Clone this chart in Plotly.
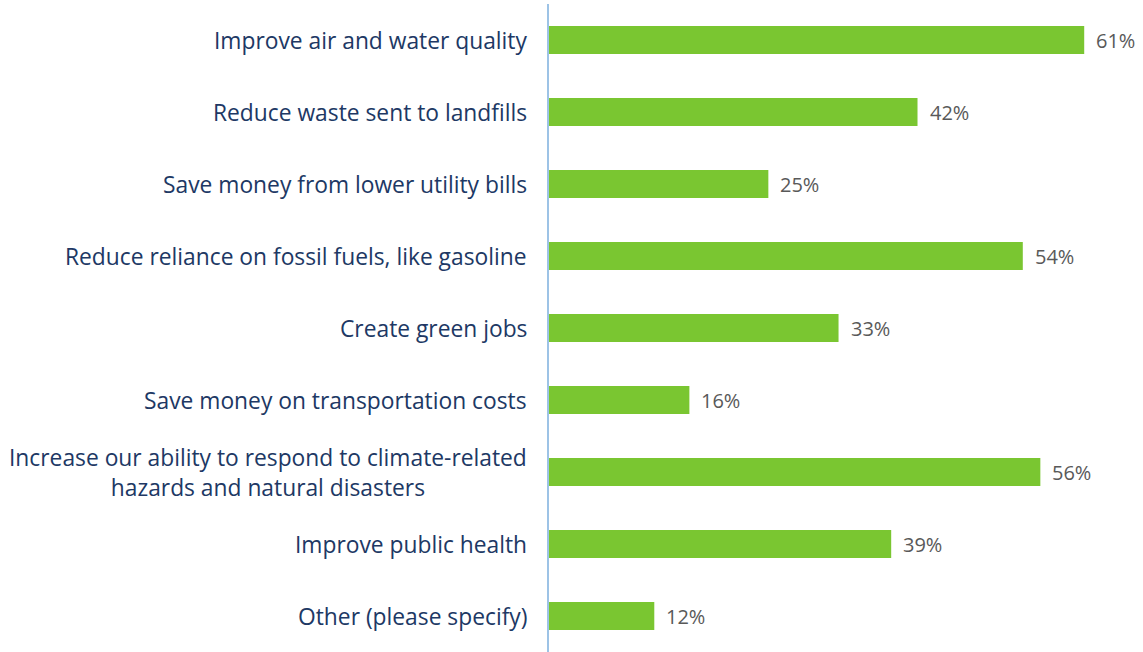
import plotly.graph_objects as go

# Survey responses: share of respondents selecting each benefit
categories = [
    "Improve air and water quality",
    "Reduce waste sent to landfills",
    "Save money from lower utility bills",
    "Reduce reliance on fossil fuels, like gasoline",
    "Create green jobs",
    "Save money on transportation costs",
    "Increase our ability to respond to climate-related<br>hazards and natural disasters",
    "Improve public health",
    "Other (please specify)",
]
values = [61, 42, 25, 54, 33, 16, 56, 39, 12]

BAR_COLOR = "#7AC631"
LABEL_COLOR = "#203864"
VALUE_COLOR = "#595959"
AXIS_COLOR = "#9DC3E6"
FONT = "Open Sans"

fig = go.Figure(
    go.Bar(
        x=values,
        y=categories,
        orientation="h",
        marker=dict(color=BAR_COLOR, line=dict(width=0)),
        width=0.39,
        hoverinfo="skip",
    )
)

annotations = []
# Category labels, lines centred within each label block
for cat in categories:
    annotations.append(dict(
        x=0, xref="paper", y=cat, yref="y",
        text=cat, showarrow=False,
        xanchor="right", yanchor="middle", align="center",
        xshift=-20,
        font=dict(family=FONT, size=22.8, color=LABEL_COLOR),
    ))
# Percentage labels just past each bar end
for cat, v in zip(categories, values):
    annotations.append(dict(
        x=v, xref="x", y=cat, yref="y",
        text=f"{v}%", showarrow=False,
        xanchor="left", yanchor="middle",
        xshift=10,
        font=dict(family=FONT, size=20, color=VALUE_COLOR),
    ))

fig.update_layout(
    width=1143, height=652,
    margin=dict(l=549, r=0, t=4, b=0),
    paper_bgcolor="white", plot_bgcolor="white",
    showlegend=False,
    bargap=0.61,
    annotations=annotations,
    xaxis=dict(range=[0, 67.7], visible=False, fixedrange=True),
    yaxis=dict(
        autorange="reversed",
        showticklabels=False, ticks="",
        showgrid=False, zeroline=False,
        showline=True, linecolor=AXIS_COLOR, linewidth=2,
        fixedrange=True,
    ),
    font=dict(family=FONT),
)

fig.write_html("out.html", config={"displayModeBar": False})
